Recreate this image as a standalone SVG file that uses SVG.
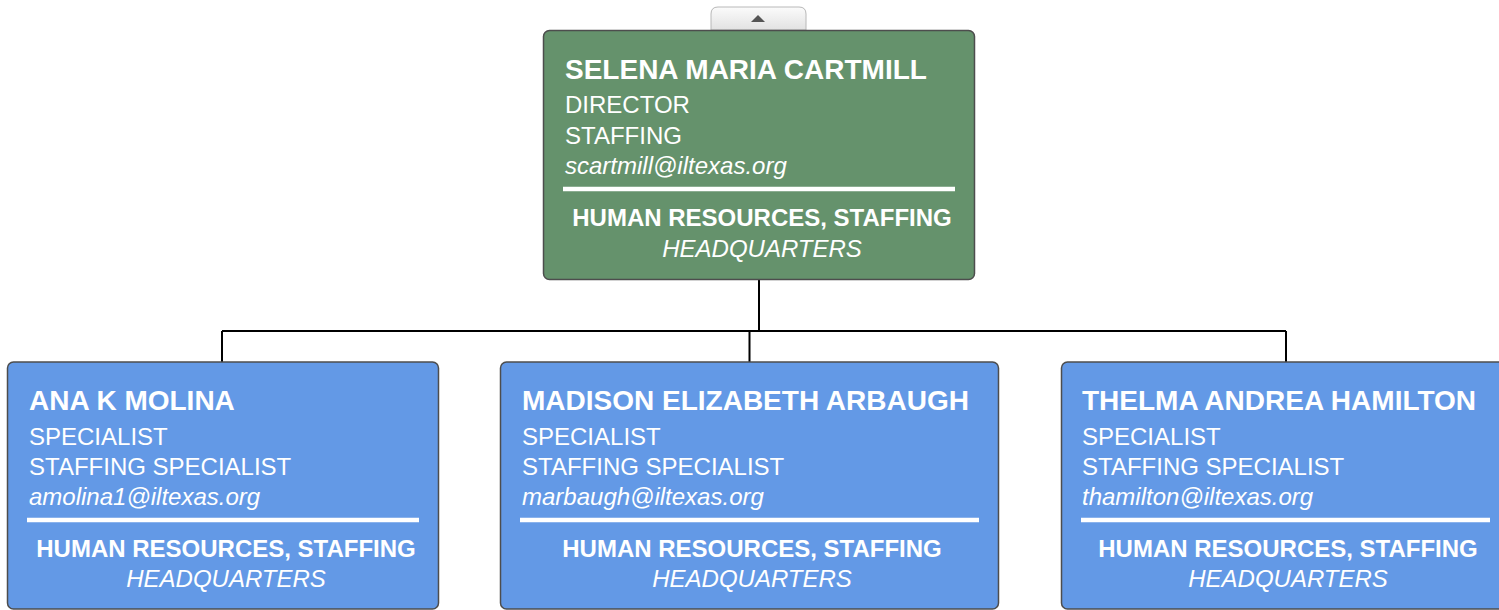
<svg xmlns="http://www.w3.org/2000/svg" width="1499" height="610" viewBox="0 0 1499 610">
<defs>
<linearGradient id="tabg" x1="0" y1="0" x2="0" y2="1">
<stop offset="0" stop-color="#fbfbfb"/>
<stop offset="1" stop-color="#e2e2e2"/>
</linearGradient>
</defs>
<style>
.box{stroke:#4d4d4d;stroke-width:1.5}
.green{fill:#65926c}
.blue{fill:#6399e6}
text{font-family:"Liberation Sans",Arial,sans-serif;fill:#ffffff}
.nm{font-size:28px;font-weight:bold}
.ln{font-size:24px}
.em{font-size:24px;font-style:italic}
.dp{font-size:24px;font-weight:bold;text-anchor:middle}
.lc{font-size:24px;font-style:italic;text-anchor:middle}
.sep{stroke:#ffffff;stroke-width:4.5}
.conn{stroke:#000000;stroke-width:2;fill:none}
</style>
<g id="collapse-tab">
<path d="M711,30 V14 Q711,7 718,7 H799 Q806,7 806,14 V30 Z" fill="url(#tabg)" stroke="#b8b8b8" stroke-width="1"/>
<path d="M751,22 L758,15 L765,22 Z" fill="#555555"/>
</g>
<g id="connectors">
<path class="conn" d="M759,280 V331 M222,331 H1286 M222,331 V362 M749.5,331 V362 M1286,331 V362"/>
</g>
<g id="node-cartmill">
<rect class="box green" x="543.5" y="30.5" width="431" height="249" rx="6"/>
<text class="nm" x="565" y="79">SELENA MARIA CARTMILL</text>
<text class="ln" x="565" y="113">DIRECTOR</text>
<text class="ln" x="565" y="144">STAFFING</text>
<text class="em" x="565" y="174">scartmill@iltexas.org</text>
<line class="sep" x1="563" y1="189" x2="955" y2="189"/>
<text class="dp" x="762" y="226">HUMAN RESOURCES, STAFFING</text>
<text class="lc" x="762" y="257">HEADQUARTERS</text>
</g>
<g id="node-molina">
<rect class="box blue" x="7.5" y="362" width="431" height="247" rx="6"/>
<text class="nm" x="29" y="410">ANA K MOLINA</text>
<text class="ln" x="29" y="445">SPECIALIST</text>
<text class="ln" x="29" y="475">STAFFING SPECIALIST</text>
<text class="em" x="29" y="505">amolina1@iltexas.org</text>
<line class="sep" x1="27" y1="520" x2="419" y2="520"/>
<text class="dp" x="226" y="557">HUMAN RESOURCES, STAFFING</text>
<text class="lc" x="226" y="587">HEADQUARTERS</text>
</g>
<g id="node-arbaugh">
<rect class="box blue" x="500.5" y="362" width="498" height="247" rx="6"/>
<text class="nm" x="522" y="410">MADISON ELIZABETH ARBAUGH</text>
<text class="ln" x="522" y="445">SPECIALIST</text>
<text class="ln" x="522" y="475">STAFFING SPECIALIST</text>
<text class="em" x="522" y="505">marbaugh@iltexas.org</text>
<line class="sep" x1="520" y1="520" x2="979" y2="520"/>
<text class="dp" x="752" y="557">HUMAN RESOURCES, STAFFING</text>
<text class="lc" x="752" y="587">HEADQUARTERS</text>
</g>
<g id="node-hamilton">
<rect class="box blue" x="1061.5" y="362" width="448" height="247" rx="6"/>
<text class="nm" x="1082" y="410">THELMA ANDREA HAMILTON</text>
<text class="ln" x="1082" y="445">SPECIALIST</text>
<text class="ln" x="1082" y="475">STAFFING SPECIALIST</text>
<text class="em" x="1082" y="505">thamilton@iltexas.org</text>
<line class="sep" x1="1081" y1="520" x2="1490" y2="520"/>
<text class="dp" x="1288" y="557">HUMAN RESOURCES, STAFFING</text>
<text class="lc" x="1288" y="587">HEADQUARTERS</text>
</g>
</svg>
